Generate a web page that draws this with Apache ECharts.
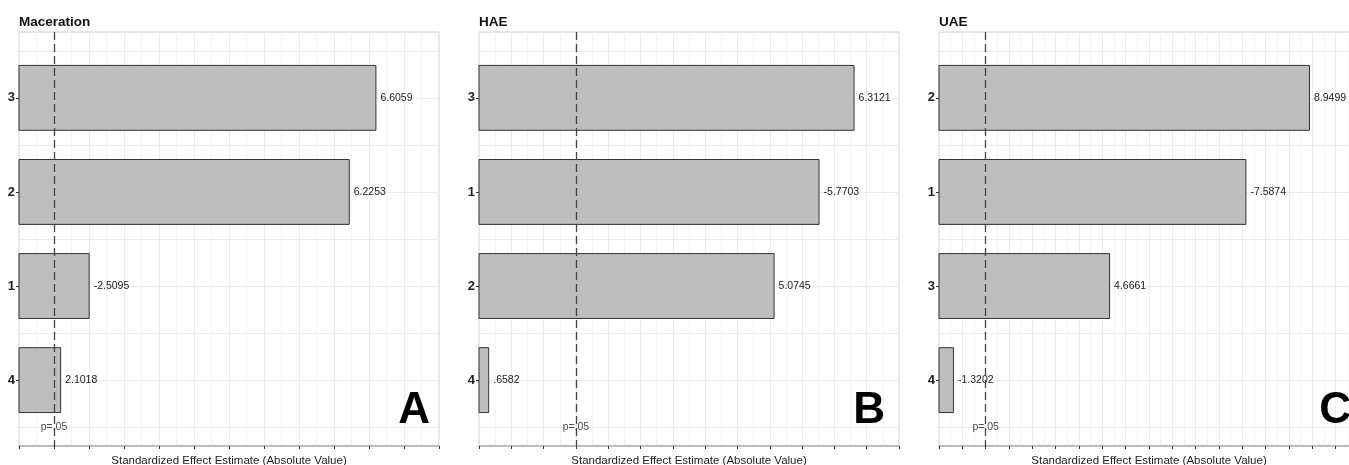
<!DOCTYPE html>
<html>
<head>
<meta charset="utf-8">
<script src="https://cdn.jsdelivr.net/npm/echarts@6/dist/echarts.min.js"></script>
<style>
html,body{margin:0;padding:0;background:#fff}
#chart{width:1349px;height:465px}
</style>
</head>
<body>
<div id="chart"></div>
<script>
// panel titles / corner letters
const panelTitles = ['Maceration', 'HAE', 'UAE'];
const panelLetters = ['A', 'B', 'C'];
// factors top to bottom, signed effects (bars use absolute value)
const macerationFactors = ['3', '2', '1', '4'];
const macerationEffects = [6.6059, 6.2253, -2.5095, 2.1018];
const haeFactors = ['3', '1', '2', '4'];
const haeEffects = [6.3121, -5.7703, 5.0745, 0.6582];
const uaeFactors = ['2', '1', '3', '4'];
const uaeEffects = [8.9499, -7.5874, 4.6661, -1.3202];
// x ranges of each panel
const axisMin = [1.5, 0.5, 1.0];
const axisMax = [7.5, 7.0, 10.0];
const pCritical = 2.0;
const pLabel = 'p=.05';
const xAxisName = 'Standardized Effect Estimate (Absolute Value)';

const factors = [macerationFactors, haeFactors, uaeFactors];
const effects = [macerationEffects, haeEffects, uaeEffects];

const FONT = 'Liberation Sans, Arial, sans-serif';
const lefts = [19, 479, 939];   // plot left edges
const letterX = [430, 885, 1351];
const plotW = 420, plotTop = 32, plotH = 414;
const pad = 0.7;                // discrete axis padding (in bands)
const band = plotH / (factors[0].length - 1 + 2 * pad);
const gridLine = '#ebebeb';

function fmt(v) {
  return v.toFixed(4).replace(/^(-?)0\./, '$1.');
}

const grid = [], xAxis = [], yAxis = [], series = [], title = [], graphic = [];

for (let i = 0; i < 3; i++) {
  const n = factors[i].length;
  const g = 3 * i;
  // frame, band boundaries, category centres
  grid.push({
    left: lefts[i], top: plotTop, width: plotW, height: plotH, outerBoundsMode: 'none',
    show: true, borderColor: '#cccccc', borderWidth: 1, backgroundColor: 'transparent'
  });
  grid.push({
    left: lefts[i], top: plotTop + (pad - 0.5) * band, width: plotW, height: n * band,
    outerBoundsMode: 'none'
  });
  grid.push({
    left: lefts[i], top: plotTop + pad * band, width: plotW, height: (n - 1) * band,
    outerBoundsMode: 'none'
  });

  xAxis.push({
    gridIndex: g, type: 'value', min: axisMin[i], max: axisMax[i], interval: 0.5,
    axisLine: {show: true, onZero: false, lineStyle: {color: '#adadad', width: 1.5}},
    axisTick: {show: true, length: 3, lineStyle: {color: '#333'}},
    axisLabel: {show: false},
    splitLine: {show: true, lineStyle: {color: gridLine, width: 1}},
    minorTick: {show: false, splitNumber: 2},
    minorSplitLine: {show: true, lineStyle: {color: '#f4f4f4', width: 1}},
    name: xAxisName, nameLocation: 'middle', nameGap: 9,
    nameTextStyle: {fontSize: 11.5, color: '#222', fontFamily: FONT}
  });
  xAxis.push({gridIndex: g + 1, type: 'value', min: axisMin[i], max: axisMax[i], show: false});
  xAxis.push({gridIndex: g + 2, type: 'value', min: axisMin[i], max: axisMax[i], show: false});

  yAxis.push({
    gridIndex: g, type: 'value', min: -pad, max: n - 1 + pad, inverse: true, show: false
  });
  yAxis.push({
    gridIndex: g + 1, type: 'category', data: factors[i], inverse: true, boundaryGap: true,
    axisLine: {show: false}, axisTick: {show: false}, axisLabel: {show: false},
    splitLine: {show: true, lineStyle: {color: gridLine, width: 1}}
  });
  yAxis.push({
    gridIndex: g + 2, type: 'category', data: factors[i], inverse: true, boundaryGap: false,
    axisLine: {show: false},
    axisTick: {show: true, length: 3, lineStyle: {color: '#333'}},
    axisLabel: {fontSize: 13, fontWeight: 'bold', color: '#222', margin: 4, fontFamily: FONT},
    splitLine: {show: true, lineStyle: {color: gridLine, width: 1}}
  });

  series.push({
    type: 'bar', xAxisIndex: g + 2, yAxisIndex: g + 2,
    data: effects[i].map(v => Math.abs(v)),
    barWidth: '70%', z: 2,
    itemStyle: {color: '#bebebe', borderColor: '#333', borderWidth: 1},
    label: {
      show: true, position: 'right', distance: 4,
      fontSize: 10.5, color: '#222', fontFamily: FONT,
      formatter: p => fmt(effects[i][p.dataIndex])
    }
  });

  // p = .05 reference line and label
  series.push({
    type: 'scatter', xAxisIndex: g, yAxisIndex: g,
    data: [[pCritical, n - 0.5]], symbolSize: 0, silent: true, z: 6,
    label: {show: true, position: 'inside', formatter: pLabel, fontSize: 10.5, color: '#222', fontFamily: FONT},
    markLine: {
      silent: true, symbol: 'none', z: 6,
      label: {show: false},
      lineStyle: {color: '#444', width: 1.3, type: [8, 4]},
      data: [{xAxis: pCritical}]
    }
  });

  title.push({
    text: panelTitles[i], left: lefts[i], top: 15, padding: 0,
    textStyle: {fontSize: 13.5, fontWeight: 'bold', color: '#111', fontFamily: FONT}
  });

  graphic.push({
    type: 'text', x: letterX[i], y: 411, z: 10,
    style: {text: panelLetters[i], font: 'bold 44px ' + FONT, fill: '#000', textAlign: 'right', textVerticalAlign: 'middle'}
  });
}

const chart = echarts.init(document.getElementById('chart'), null, {renderer: 'canvas'});
chart.setOption({
  animation: false,
  textStyle: {fontFamily: FONT},
  title, grid, xAxis, yAxis, series, graphic
});
</script>
</body>
</html>
